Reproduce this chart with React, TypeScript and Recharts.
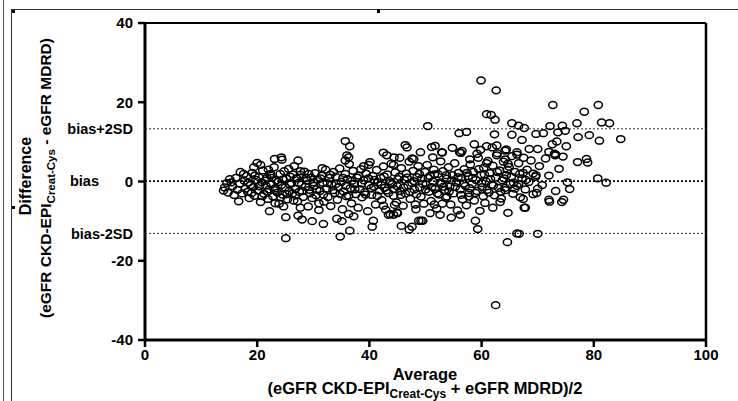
import React from "react";
import { ScatterChart, Scatter, XAxis, YAxis, ReferenceLine, Label } from "recharts";

// Bland-Altman values: [average, difference]
const outlierPoints: [number, number][] = [
  [59.9, 25.5], [62.6, 23.0], [72.7, 19.3], [80.8, 19.3], [78.3, 17.6], [60.9, 17.0], [61.7, 16.8], [62.4, 15.6],
  [50.4, 14.0], [56.0, 12.2], [57.3, 12.5], [65.4, 14.7], [66.6, 14.1], [67.6, 13.5], [65.4, 11.8], [62.3, 11.9],
  [72.2, 14.0], [74.4, 14.1], [77.0, 14.7], [81.4, 14.9], [82.8, 14.7], [69.7, 12.0], [71.0, 12.2], [73.6, 12.4],
  [74.9, 12.8], [77.2, 11.2], [79.2, 11.7], [81.0, 10.3], [84.8, 10.7], [67.2, 10.5], [73.4, 10.1], [68.5, 8.2],
  [70.0, 8.2], [75.1, 8.9], [72.0, 7.5], [73.0, 7.0], [73.1, 6.6], [73.2, 6.8], [77.1, 4.9], [78.7, 5.7], [78.9, 4.8],
  [80.7, 0.8], [82.2, -0.3], [46.4, 9.2], [46.7, 8.6], [51.1, 8.7], [51.7, 9.0], [54.8, 8.5], [56.1, 7.4], [56.5, 7.7],
  [56.3, 7.2], [58.7, 9.4], [59.8, 8.0], [60.9, 8.9], [61.9, 8.6], [62.7, 9.1], [64.4, 8.1], [66.3, 6.8], [66.3, 7.4],
  [42.5, 7.3], [43.1, 6.6], [44.4, 6.1], [47.6, 5.8], [49.1, 7.4], [51.3, 6.1], [52.9, 7.4], [53.0, 7.3], [57.9, 5.6],
  [59.2, 7.0], [60.9, 4.6], [62.8, 7.1], [64.2, 5.6], [64.2, 7.8], [64.7, 4.5], [67.4, 2.2], [69.2, 2.0], [69.7, 1.6],
  [65.7, -0.3], [66.6, -0.6], [70.0, -1.8], [75.7, -1.9], [69.8, -2.9], [72.0, -4.6], [74.6, -4.6], [74.3, -5.2],
  [67.4, -4.4], [67.8, -6.6], [62.5, -31.2], [64.6, -15.3], [66.3, -13.1], [66.7, -13.2], [70.0, -13.2], [58.9, -9.9],
  [59.3, -12.0], [62.0, -6.6], [63.3, -5.2], [67.6, -6.6], [72.1, -5.1], [45.7, -11.2], [47.1, -12.1], [47.6, -11.4],
  [49.2, -9.9], [50.8, -8.0], [52.6, -8.4], [54.6, -9.1], [56.2, -8.4], [43.4, -8.4], [44.3, -8.4], [45.0, -8.0],
  [40.7, -9.9], [40.5, -11.4], [44.5, -5.9], [48.2, -5.8], [51.6, -5.8], [53.0, -5.6], [60.3, -3.7], [64.2, -1.6],
  [53.8, -3.8], [57.7, -3.8], [25.1, -14.3], [22.2, -7.5], [25.1, -9.0], [27.3, -8.6], [28.0, -9.6], [29.8, -10.0],
  [31.8, -10.7], [34.8, -13.9], [36.5, -12.4], [34.2, -9.4], [35.1, -10.0], [36.3, -8.2], [37.2, -8.8], [16.7, -5.0],
  [23.2, -5.5], [24.7, -6.3], [26.5, -4.8], [27.7, -6.6], [31.0, -5.5], [42.5, -6.1], [43.7, -8.2], [44.9, -7.8],
  [48.8, -9.9], [49.5, -9.9], [35.7, 10.2], [36.5, 8.9], [20.0, 4.7], [23.1, 5.7], [24.3, 6.1], [24.4, 5.5], [27.3, 5.3],
  [31.6, 3.4], [35.7, 5.3], [36.3, 6.1], [36.0, 6.6], [39.0, 3.9], [39.9, 4.2], [44.3, 4.2], [45.4, 6.0], [47.9, 5.7],
  [14.0, -2.3], [14.6, -0.4], [15.4, -0.2], [17.0, 2.4], [17.6, 1.9], [20.6, 4.2], [19.4, 3.6], [25.6, 3.2], [27.7, 2.6],
  [29.2, 1.9], [22.0, 3.0], [22.4, 1.9],
];

const lowRangePoints: [number, number][] = [
  [14.2, -1.5], [14.8, -2.8], [15.1, 0.6], [15.6, -1.2], [15.9, -3.4], [16.2, 0.9], [16.5, -2.1], [16.9, -0.5], [17.3, -3.0],
  [17.7, 0.2], [17.9, -1.8], [18.1, 1.4], [18.3, -2.6], [18.6, -4.2], [18.8, -0.9], [19.1, 2.2], [19.3, -1.4], [19.5, -3.6],
  [19.8, 0.4], [20.1, -2.3], [20.3, 1.1], [20.6, -5.2], [20.8, -0.2], [21.0, 2.8], [21.2, -3.1], [21.5, -1.0], [21.7, 0.9],
  [21.9, -4.4], [22.1, -2.0], [22.3, 1.6], [22.5, -0.6], [22.8, -3.8], [23.0, 3.6], [23.2, -1.7], [23.4, 0.3], [23.6, -2.8],
  [23.9, -5.6], [24.1, 1.9], [24.3, -0.9], [24.5, -3.3], [24.8, 2.6], [25.0, -1.5], [25.2, 0.7], [25.4, -4.5], [25.7, -2.4],
  [25.9, 1.2], [26.1, -0.4], [26.3, -3.0], [26.6, 3.9], [26.8, -1.9], [27.0, 0.8], [27.2, -5.0], [27.5, -2.6], [27.7, 1.7],
  [27.9, -0.8], [28.2, -3.9], [28.4, 2.5], [28.6, -1.3], [28.9, 0.2], [29.1, -6.3], [29.3, -2.1], [29.6, 1.0], [29.8, -4.2],
  [30.1, -1.1], [30.3, 2.1], [30.5, -3.5], [30.8, 0.5], [31.0, -7.2], [31.2, -2.4], [31.5, 1.5], [31.7, -0.3], [31.9, -5.1],
  [32.2, 3.0], [32.4, -1.8], [32.6, -3.9], [32.9, 0.9], [33.1, -6.2], [33.3, -0.8], [33.6, 2.4], [33.8, -2.9],
];

const midRangePoints: [number, number][] = [
  [34.0, 1.2], [34.3, -4.6], [34.5, -1.4], [34.7, 3.3], [35.0, -0.1], [35.2, -7.0], [35.4, -2.5], [35.7, 1.9], [35.9, -3.7],
  [36.1, 0.6], [36.4, 4.4], [36.6, -1.7], [36.8, -5.5], [37.1, 2.7], [37.3, -0.6], [37.6, -3.2], [37.8, 1.0], [38.0, -6.6],
  [38.3, -1.9], [38.5, 3.1], [38.7, -4.0], [39.0, 0.3], [39.2, -2.7], [39.4, 2.0], [39.7, -7.5], [39.9, -0.9], [40.1, 4.9],
  [40.4, -3.4], [40.6, 1.4], [40.8, -1.3], [41.1, -5.8], [41.3, 2.9], [41.5, -0.2], [41.8, -2.3], [42.0, 0.9], [42.2, -4.7],
  [42.5, 3.8], [42.7, -1.6], [42.9, -7.1], [43.2, 1.8], [43.4, -2.9], [43.6, 0.1], [43.9, 4.5], [44.1, -0.7], [44.3, -3.6],
  [44.6, 2.3], [44.8, -5.3], [45.0, -1.2], [45.3, 1.2], [45.5, -2.4], [45.7, 3.4], [46.0, -6.1], [46.2, 0.5], [46.4, -3.0],
  [46.6, 2.0], [46.9, -1.0], [47.1, 5.0], [47.3, -4.4], [47.6, -0.4], [47.8, 2.7], [48.0, -2.0], [48.3, -7.0], [48.5, 1.1],
  [48.7, 3.9], [49.0, -1.5], [49.2, -3.8], [49.4, 0.8], [49.7, -5.6], [49.9, 2.4], [50.1, -0.8], [50.3, 4.2], [50.6, -2.6],
  [50.8, 1.4], [51.0, -4.9], [51.3, 0.0], [51.5, 3.0], [51.7, -1.9], [52.0, -6.8], [52.2, 1.9], [52.4, -3.3], [52.7, 5.1],
  [52.9, -0.5], [53.1, 2.6], [53.4, -2.2], [53.6, -4.1], [53.8, 0.7],
];

const highRangePoints: [number, number][] = [
  [54.1, 3.6], [54.3, -1.3], [54.5, -5.8], [54.8, 1.6], [55.0, -3.0], [55.2, 4.6], [55.5, -0.2], [55.7, -7.3], [55.9, 2.2],
  [56.2, -2.0], [56.4, 0.9], [56.6, -4.5], [56.9, 3.1], [57.1, -1.1], [57.3, -6.0], [57.6, 1.3], [57.8, -2.9], [58.0, 4.3],
  [58.3, -0.6], [58.5, 2.4], [58.7, -4.8], [59.0, 0.4], [59.2, -2.4], [59.4, 6.0], [59.7, -7.4], [59.9, 1.7], [60.1, -1.4],
  [60.4, 3.5], [60.6, -5.4], [60.8, 0.0], [61.1, 5.2], [61.3, -2.8], [61.5, 2.1], [61.8, -0.8], [62.0, 4.0], [62.3, -3.5],
  [62.5, 1.0], [62.7, 6.6], [63.0, -1.6], [63.2, 2.8], [63.5, -4.3], [63.7, 0.3], [63.9, 5.0], [64.2, -2.2], [64.4, 1.6],
  [64.7, -7.9], [64.9, 3.7], [65.1, -0.7], [65.4, 6.4], [65.6, -3.1], [66.0, 2.4], [66.3, -1.1], [66.6, 4.6], [66.9, -4.0],
  [67.2, 0.8], [67.5, 6.0], [67.8, -2.0], [68.1, 3.0], [68.4, -0.1], [68.8, 5.3], [69.2, -3.2], [69.6, 1.2], [70.3, 3.9],
  [70.8, -0.9], [71.4, 5.8], [72.0, 1.5], [72.6, 9.4], [73.2, -2.4], [73.8, 3.2], [74.5, 6.3], [75.3, -0.2],
];

const denseCorePoints: [number, number][] = [
  [18.4, -0.3], [19.0, -2.9], [19.6, 1.5], [20.4, -1.2], [20.9, -3.7], [21.4, 0.2], [21.8, -2.6], [22.6, 0.9], [23.1, -2.2],
  [23.7, -0.1], [24.2, -4.0], [24.6, 0.5], [25.3, -3.2], [25.8, -0.7], [26.4, 1.8], [26.9, -3.5], [27.4, -0.3], [28.0, -2.4],
  [28.7, 0.9], [29.4, -3.0], [30.0, -0.2], [30.6, -2.0], [31.3, 0.8], [31.8, -3.3], [32.5, -0.4], [33.0, 1.7], [33.5, -2.2],
  [34.1, -0.6], [34.8, -3.1], [35.3, 0.9], [35.8, -1.1], [36.3, -3.6], [36.9, 0.2], [37.4, -2.0], [38.1, 1.5], [38.6, -0.5],
  [39.3, -3.3], [39.8, 0.8], [40.3, -1.7], [40.9, 0.4], [41.4, -3.6], [42.1, -0.9], [42.6, 1.3], [43.0, -2.3], [43.8, -0.3],
  [44.4, -1.9], [45.1, 0.6], [45.6, -3.4], [46.1, -1.5], [46.7, 1.0], [47.2, -2.6], [47.9, 0.1], [48.4, -3.2], [48.9, 1.9],
  [49.5, -0.6], [50.0, -2.0], [50.5, 0.9], [51.1, -1.4], [51.6, 1.8], [52.1, -3.0], [52.6, -0.2], [53.2, -1.3], [53.7, 1.6],
  [54.2, -2.5], [54.7, 0.3], [55.3, -1.4], [55.8, 1.1], [56.3, -3.4], [56.8, -0.5], [57.4, 2.2], [57.9, -1.7], [58.4, 0.9],
  [58.9, -2.9], [59.5, 3.1], [60.0, -0.4], [60.5, 1.8], [61.0, -2.1], [61.6, 0.6], [62.1, -1.0], [62.8, 2.4], [63.4, -2.6],
  [64.0, 0.8], [64.6, 3.0], [65.3, 1.2], [65.9, -1.8], [66.8, 1.9], [67.9, 0.4],
];

const xTicks = [0, 20, 40, 60, 80, 100];
const yTicks = [-40, -20, 0, 20, 40];
const biasValue = 0.1;
const upperLimit = 13.3;
const lowerLimit = -13.1;

const chartData = [...outlierPoints, ...lowRangePoints, ...midRangePoints, ...highRangePoints, ...denseCorePoints].map(
  ([avg, diff]) => ({ avg, diff })
);

const FONT = "Arial, 'Liberation Sans', sans-serif";

const OpenCircle = (props: any) => {
  const { cx, cy } = props;
  if (cx == null || cy == null) return null;
  return <ellipse cx={cx} cy={cy} rx={4.1} ry={3.4} fill="none" stroke="#000" strokeWidth={1.5} />;
};

const XTitle = () => (
  <g fontFamily={FONT} fontWeight="bold" fill="#000">
    <text x={425} y={380} textAnchor="middle" fontSize={16.5}>
      Average
    </text>
    <text x={425} y={394} textAnchor="middle" fontSize={16.5}>
      (eGFR CKD-EPI
      <tspan fontSize={12} dy={3.5}>Creat-Cys</tspan>
      <tspan dy={-3.5}> + eGFR MDRD)/2</tspan>
    </text>
  </g>
);

const YTitle = () => (
  <g fontFamily={FONT} fontWeight="bold" fill="#000">
    <text x={0} y={0} textAnchor="middle" fontSize={16} transform="translate(31,176) rotate(-90)">
      Difference
    </text>
    <text x={0} y={0} textAnchor="middle" fontSize={15.5} transform="translate(51,178) rotate(-90)">
      (eGFR CKD-EPI
      <tspan fontSize={11.5} dy={4}>Creat-Cys</tspan>
      <tspan dy={-4}> - eGFR MDRD)</tspan>
    </text>
  </g>
);

const tickStyle = { fontFamily: FONT, fontWeight: "bold" as const, fontSize: 15, fill: "#000" };
const refLabelStyle = { fontFamily: FONT, fontWeight: "bold", fontSize: 14.5, fill: "#000" };

export default function App() {
  return (
    <div style={{ position: "absolute", left: 0, top: 0, width: 738, height: 401, background: "#fff" }}>
      <div style={{ position: "absolute", left: 3, top: 0, width: 1, height: 401, background: "#555" }} />
      <div style={{ position: "absolute", left: 11, top: 9, width: 1, height: 392, background: "#333" }} />
      <div style={{ position: "absolute", left: 11, top: 9, width: 727, height: 1, background: "#333" }} />
      <div style={{ position: "absolute", left: 12, top: 10, width: 3, height: 3, background: "#000" }} />
      <div style={{ position: "absolute", left: 377, top: 9, width: 3, height: 4, background: "#000" }} />
      <div style={{ position: "absolute", left: 12, top: 206, width: 3, height: 3, background: "#000" }} />
      <ScatterChart
        width={738}
        height={401}
        margin={{ top: 23, right: 32, bottom: 21, left: 0 }}
        style={{ position: "absolute", left: 0, top: 0 }}
      >
        <XAxis
          type="number"
          dataKey="avg"
          domain={[0, 100]}
          ticks={xTicks}
          interval={0}
          height={40}
          tick={tickStyle}
          tickSize={7}
          tickMargin={2}
          axisLine={{ stroke: "#000", strokeWidth: 3 }}
          tickLine={{ stroke: "#000", strokeWidth: 2.5 }}
        >
          <Label content={XTitle} />
        </XAxis>
        <YAxis
          type="number"
          dataKey="diff"
          domain={[-40, 40]}
          ticks={yTicks}
          interval={0}
          width={145}
          tick={tickStyle}
          tickSize={7}
          tickMargin={5}
          axisLine={{ stroke: "#000", strokeWidth: 3 }}
          tickLine={{ stroke: "#000", strokeWidth: 2.5 }}
        >
          <Label content={YTitle} />
        </YAxis>
        <ReferenceLine y={40} stroke="#000" strokeWidth={2} />
        <ReferenceLine x={100} stroke="#000" strokeWidth={2.5} />
        <ReferenceLine y={upperLimit} stroke="#333" strokeWidth={1} strokeDasharray="2 2">
          <Label value="bias+2SD" position="left" offset={12} style={refLabelStyle} />
        </ReferenceLine>
        <ReferenceLine y={biasValue} stroke="#000" strokeWidth={1.6} strokeDasharray="2 2">
          <Label value="bias" position="left" offset={46} style={refLabelStyle} />
        </ReferenceLine>
        <ReferenceLine y={lowerLimit} stroke="#333" strokeWidth={1} strokeDasharray="2 2">
          <Label value="bias-2SD" position="left" offset={12} style={refLabelStyle} />
        </ReferenceLine>
        <Scatter data={chartData} shape={OpenCircle} isAnimationActive={false} />
      </ScatterChart>
    </div>
  );
}
